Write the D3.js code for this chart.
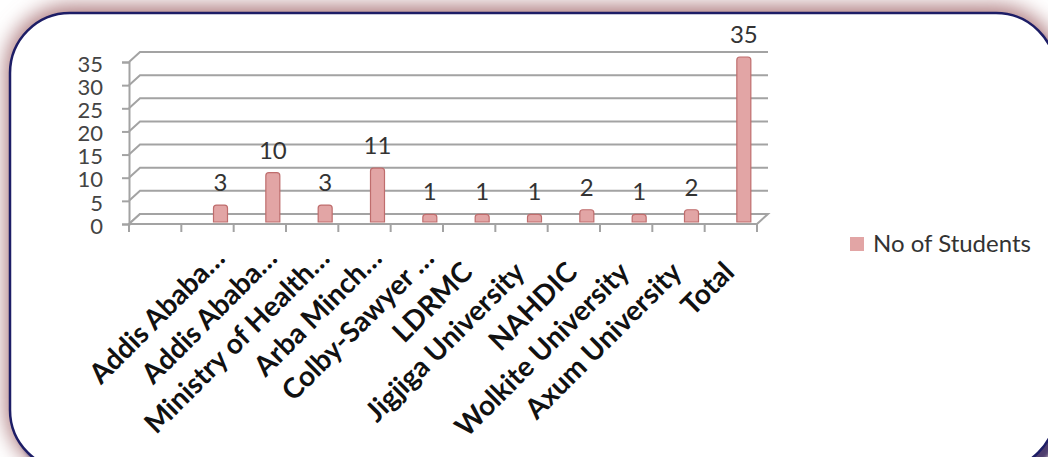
<!DOCTYPE html>
<html>
<head>
<meta charset="utf-8">
<script src="https://cdn.jsdelivr.net/npm/d3@7"></script>
<style>
  html, body { margin: 0; padding: 0; background: #fff; }
  svg { display: block; }
</style>
</head>
<body>
<script>
// chart data
const categories = ["", "Addis Ababa…", "Addis Ababa…", "Ministry of Health…", "Arba Minch…",
    "Colby-Sawyer …", "LDRMC", "Jigjiga University", "NAHDIC", "Wolkite University",
    "Axum University", "Total"];
const students = [null, 3, 10, 3, 11, 1, 1, 1, 2, 1, 2, 35];
const yTicks = [0, 5, 10, 15, 20, 25, 30, 35];
const seriesName = "No of Students";

const width = 1048, height = 457;
const depth = {dx: 11, dy: -10}; // fake 3d depth of the plot box
const font = "Lato, 'Open Sans', sans-serif";

const svg = d3.select("body").append("svg")
    .attr("width", width)
    .attr("height", height);

const defs = svg.append("defs");
defs.append("filter").attr("id", "glow")
    .attr("x", "-10%").attr("y", "-20%").attr("width", "120%").attr("height", "140%")
    .append("feGaussianBlur").attr("stdDeviation", 10);
defs.append("filter").attr("id", "soft")
    .append("feGaussianBlur").attr("stdDeviation", 2);

// frame with its shadow
const frame = {x: 10, y: 13, w: 1046, h: 457, r: 60};
svg.append("rect") // pink glow round the frame
    .attr("x", frame.x - 5).attr("y", frame.y - 8)
    .attr("width", frame.w + 10).attr("height", frame.h + 12)
    .attr("rx", frame.r + 6)
    .attr("fill", "#b07f82")
    .attr("filter", "url(#glow)");
svg.append("rect") // dark drop shadow bottom right
    .attr("x", frame.x + 6).attr("y", frame.y + 8)
    .attr("width", frame.w).attr("height", frame.h)
    .attr("rx", frame.r)
    .attr("fill", "#4d3d6e")
    .attr("filter", "url(#soft)");
svg.append("rect")
    .attr("x", frame.x).attr("y", frame.y)
    .attr("width", frame.w).attr("height", frame.h)
    .attr("rx", frame.r)
    .attr("fill", "#fff")
    .attr("stroke", "#1d1d66")
    .attr("stroke-width", 2.5);

// scales
const x = d3.scaleBand()
    .domain(d3.range(categories.length))
    .range([129, 757]);
const y = d3.scaleLinear()
    .domain([0, 35])
    .range([224, 62]);

const g = svg.append("g");
const gridColor = "#a3a3a3";
const x0 = x.range()[0], x1 = x.range()[1], y0 = y(0);

// back wall gridlines with the slanted part on the side wall
g.selectAll(".grid")
    .data(yTicks)
    .enter()
    .append("path")
    .attr("class", "grid")
    .attr("d", v => `M${x0},${y(v)} L${x0 + depth.dx},${y(v) + depth.dy} L${x1 + depth.dx},${y(v) + depth.dy}`)
    .attr("fill", "none")
    .attr("stroke", gridColor)
    .attr("stroke-width", 2);

// floor
g.append("path")
    .attr("d", `M${x0},${y0} L${x1},${y0} L${x1 + depth.dx},${y0 + depth.dy} L${x0 + depth.dx},${y0 + depth.dy} Z`)
    .attr("fill", "#fff")
    .attr("stroke", gridColor)
    .attr("stroke-width", 2);

// bars, set at mid depth
const barW = 14;
const barShift = 13;
const bars = categories.map((c, i) => ({c, i, v: students[i]})).filter(d => d.v != null);

g.selectAll(".bar")
    .data(bars)
    .enter()
    .append("path")
    .attr("class", "bar")
    .attr("d", d => {
        const cx = x(d.i) + x.bandwidth() / 2 + barShift;
        const yb = y(0) + depth.dy / 2 + 3;
        const yt = y(d.v) + depth.dy / 2;
        const r = 3;
        return `M${cx - barW / 2},${yb} L${cx - barW / 2},${yt + r} Q${cx - barW / 2},${yt} ${cx - barW / 2 + r},${yt}` +
            ` L${cx + barW / 2 - r},${yt} Q${cx + barW / 2},${yt} ${cx + barW / 2},${yt + r} L${cx + barW / 2},${yb} Z`;
    })
    .attr("fill", "#e2a5a5")
    .attr("stroke", "#bf6d6d")
    .attr("stroke-width", 1.2);

// value labels
g.selectAll(".val")
    .data(bars)
    .enter()
    .append("text")
    .attr("class", "val")
    .attr("x", d => x(d.i) + x.bandwidth() / 2 + barShift)
    .attr("y", d => y(d.v) + depth.dy / 2 - 14)
    .attr("text-anchor", "middle")
    .style("font-family", font)
    .style("font-size", "24px")
    .style("fill", "#333")
    .text(d => d.v);

// y axis on the front edge
const yAxis = g.append("g")
    .attr("transform", `translate(${x0},0)`)
    .call(d3.axisLeft(y).tickValues(yTicks).tickSize(7).tickPadding(19));
yAxis.select(".domain").attr("stroke", gridColor).attr("stroke-width", 2);
yAxis.selectAll(".tick line").attr("stroke", gridColor).attr("stroke-width", 2);
yAxis.selectAll(".tick text")
    .style("font-family", font)
    .style("font-size", "22px")
    .style("fill", "#444")
    .attr("dy", "0.42em");

// x axis: ticks between categories
const xAxis = g.append("g").attr("transform", `translate(0,${y0})`);
xAxis.append("line")
    .attr("x1", x0).attr("x2", x1)
    .attr("stroke", gridColor).attr("stroke-width", 2);
xAxis.selectAll(".xt")
    .data(d3.range(categories.length + 1))
    .enter()
    .append("line")
    .attr("x1", i => x0 + i * x.step()).attr("x2", i => x0 + i * x.step())
    .attr("y1", 0).attr("y2", 8)
    .attr("stroke", gridColor).attr("stroke-width", 2);

// category labels, turned 45 degrees
g.selectAll(".cat")
    .data(categories.map((c, i) => ({c, i})).filter(d => d.c !== ""))
    .enter()
    .append("text")
    .attr("class", "cat")
    .attr("transform", d => {
        const cut = d.c.endsWith("…") ? 14 : 0; // cut names sit further up the slant
        const ax = x(d.i) + x.bandwidth() / 2 + 5 + cut;
        const ay = y0 + 50 - cut;
        return `translate(${ax},${ay}) rotate(-45)`;
    })
    .attr("text-anchor", "end")
    .style("font-family", font)
    .style("font-weight", "bold")
    .style("font-size", "28px")
    .style("fill", "#111")
    .text(d => d.c);

// legend
const legend = svg.append("g").attr("transform", "translate(850,237)");
legend.append("rect")
    .attr("width", 14).attr("height", 14)
    .attr("fill", "#e2a5a5");
legend.append("text")
    .attr("x", 23).attr("y", 15)
    .style("font-family", font)
    .style("font-size", "24px")
    .style("fill", "#333")
    .text(seriesName);
</script>
</body>
</html>
